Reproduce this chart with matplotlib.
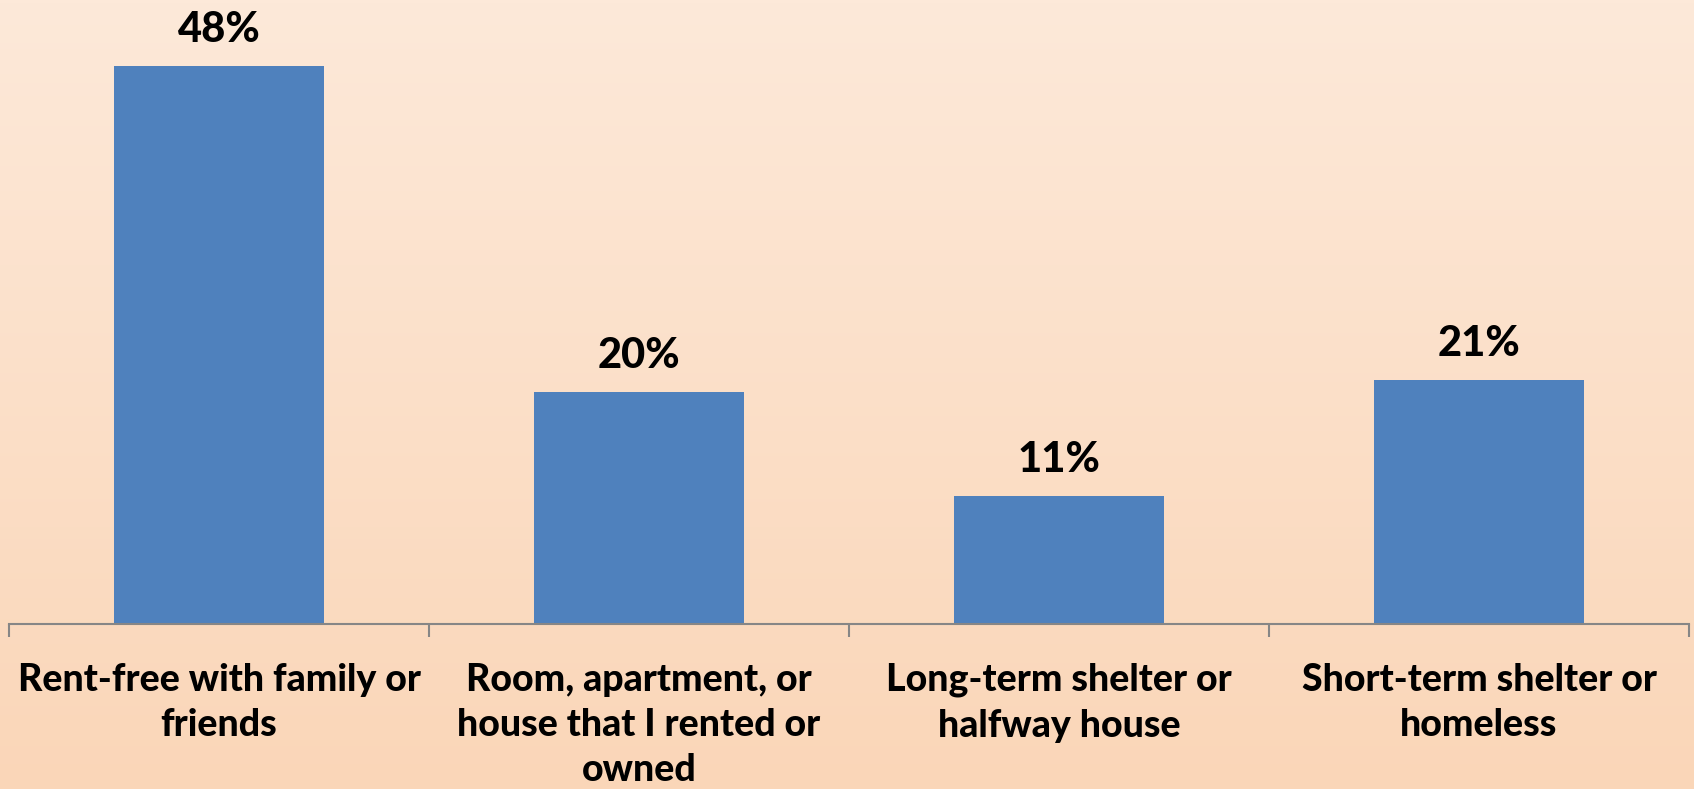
import numpy as np
import matplotlib.pyplot as plt
from matplotlib.colors import LinearSegmentedColormap

categories = ["Rent-free with family or\nfriends",
              "Room, apartment, or\nhouse that I rented or\nowned",
              "Long-term shelter or\nhalfway house",
              "Short-term shelter or\nhomeless"]
values = [48, 20, 11, 21]
labels = ["48%", "20%", "11%", "21%"]

W, H = 1694, 789
fig = plt.figure(figsize=(W / 100, H / 100), dpi=100)

# background gradient
bg = fig.add_axes([0, 0, 1, 1])
cmap = LinearSegmentedColormap.from_list("peach", ["#FDE9D9", "#FAD6B8"])
bg.imshow(np.linspace(0, 1, 256).reshape(-1, 1), aspect="auto", cmap=cmap,
          extent=[0, 1, 0, 1])
bg.set_axis_off()

ax = fig.add_axes([9 / W, (H - 624) / H, 1680 / W, 624 / H])
ax.patch.set_alpha(0)
x = np.arange(len(values))
ax.bar(x, values, width=0.5, color="#4F81BD")
ax.set_xlim(-0.5, len(values) - 0.5)
ax.set_ylim(0, 624 / 558 * 48)

for xi, v, lab in zip(x, values, labels):
    ax.annotate(lab, (xi, v), xytext=(0, 12), textcoords="offset points",
                ha="center", va="bottom", fontsize=30, fontweight="black",
                family="Lato")

for s in ["top", "right", "left"]:
    ax.spines[s].set_visible(False)
ax.spines["bottom"].set_color("#868686")
ax.spines["bottom"].set_linewidth(1.5)
ax.set_yticks([])
ax.set_xticks(np.arange(-0.5, len(values)), minor=False)
ax.set_xticklabels([])
ax.tick_params(axis="x", length=9, width=1.5, color="#868686")
ax.set_xticks(x, minor=True)
ax.set_xticklabels(categories, minor=True, fontsize=27, fontweight="black",
                   family="Lato", linespacing=1.4, va="top")
ax.tick_params(axis="x", which="minor", length=0, pad=28)

fig.savefig("out.png", dpi=100)
